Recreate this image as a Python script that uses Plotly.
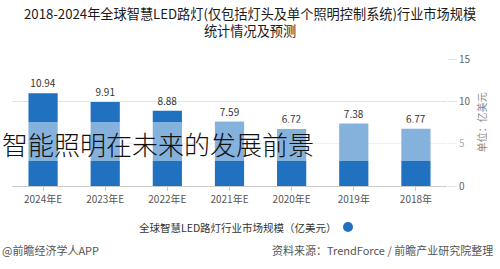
import plotly.graph_objects as go

years = ["2018年", "2019年", "2020年E", "2021年E", "2022年E", "2023年E", "2024年E"]
values = [6.77, 7.38, 6.72, 7.59, 8.88, 9.91, 10.94]
value_labels = ["6.77", "7.38", "6.72", "7.59", "8.88", "9.91", "10.94"]
y_ticks = [0, 5, 10, 15]

title_line1 = "2018-2024年全球智慧LED路灯(仅包括灯头及单个照明控制系统)行业市场规模"
title_line2 = "统计情况及预测"
series_name = "全球智慧LED路灯行业市场规模（亿美元）"
source_text = "资料来源：TrendForce / 前瞻产业研究院整理"
brand_text = "@前瞻经济学人APP"
overlay_text = "智能照明在未来的发展前景"
unit_text = "单位：亿美元"

FONT = "Noto Sans CJK SC"
BAR = "#2171c1"

fig = go.Figure()
fig.add_trace(go.Bar(
    x=years, y=values, text=value_labels, textposition="outside",
    textfont=dict(size=10, color="#333", family=FONT),
    marker=dict(color=BAR, line=dict(width=0)),
    showlegend=False, cliponaxis=False,
))

fig.update_layout(
    width=500, height=269,
    margin=dict(l=12, r=53, t=59, b=83),
    paper_bgcolor="white", plot_bgcolor="white",
    bargap=0.53,
    font=dict(family=FONT, size=10, color="#555"),
    showlegend=False,
    xaxis=dict(autorange="reversed", showgrid=False, showline=True, linecolor="#cccccc",
               ticks="outside", ticklen=4, tickcolor="#cccccc",
               tickfont=dict(size=10, color="#555")),
    yaxis=dict(side="right", range=[0, 15], tickvals=y_ticks, showgrid=True,
               gridcolor="#e3e3e3", gridwidth=1, zeroline=False,
               ticks="outside", ticklen=9, tickcolor="#e3e3e3",
               tickfont=dict(size=10, color="#666")),
    shapes=[
        dict(type="rect", xref="paper", yref="paper", x0=-0.1, x1=1.15,
             y0=0.197, y1=0.504, fillcolor="rgba(255,255,255,0.45)",
             line=dict(width=0), layer="above"),
        dict(type="circle", xref="paper", yref="paper", xsizemode="pixel", ysizemode="pixel",
             xanchor=(348 - 12) / 435, yanchor=-0.323, x0=-5, x1=5, y0=-5, y1=5,
             fillcolor=BAR, line=dict(width=0)),
    ],
    annotations=[
        dict(text=title_line1 + "<br>" + title_line2, xref="paper", yref="paper",
             x=0.547, y=(186 - 22) / 127, xanchor="center", yanchor="middle",
             showarrow=False, align="center",
             font=dict(size=13.2, color="#1a1a1a", family=FONT)),
        dict(text=series_name, xref="paper", yref="paper", x=(339 - 12) / 435, y=-0.323,
             xanchor="right", yanchor="middle", showarrow=False,
             font=dict(size=10.5, color="#333", family=FONT)),
        dict(text=unit_text, xref="paper", yref="paper", x=1.08, y=0.5,
             textangle=-90, showarrow=False, xanchor="center", yanchor="middle",
             font=dict(size=10, color="#888", family=FONT)),
        dict(text=source_text, xref="paper", yref="paper", x=1.11, y=-0.505,
             xanchor="right", yanchor="middle", showarrow=False,
             font=dict(size=11, color="#555", family=FONT)),
        dict(text=brand_text, xref="paper", yref="paper", x=-0.027, y=-0.505,
             xanchor="left", yanchor="middle", showarrow=False,
             font=dict(size=11, color="#555", family=FONT)),
        dict(text=overlay_text, xref="paper", yref="paper", x=-0.027, y=0.331,
             xanchor="left", yanchor="middle", showarrow=False,
             font=dict(size=26, color="#111", family=FONT, weight=300)),
    ],
)

fig.write_html("out.html")
